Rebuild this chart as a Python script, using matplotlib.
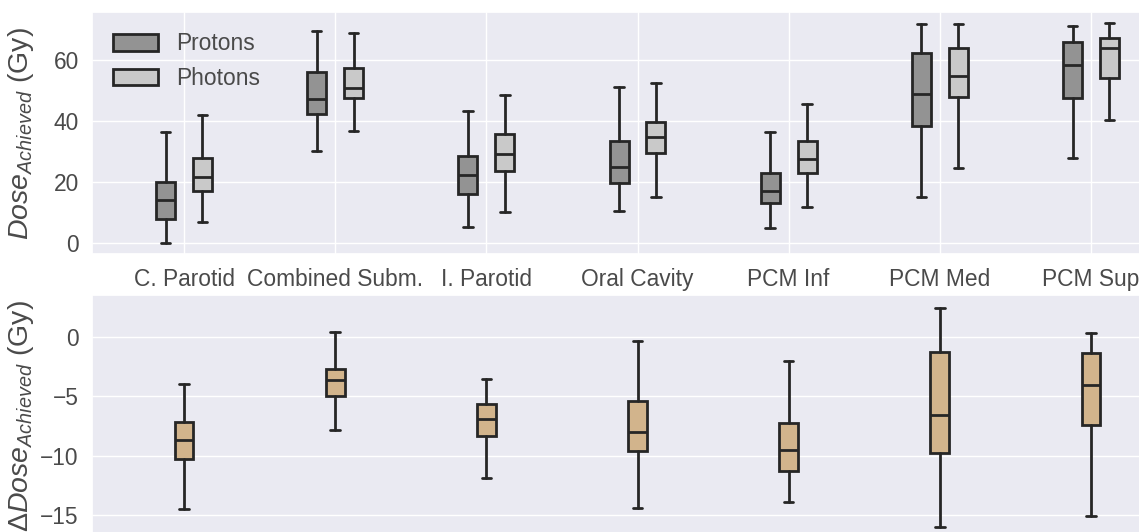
import matplotlib
matplotlib.use("Agg")
import matplotlib.pyplot as plt
import seaborn as sns
from matplotlib.patches import Patch

# data (Gy)
categories = ["C. Parotid", "Combined Subm.", "I. Parotid", "Oral Cavity",
              "PCM Inf", "PCM Med", "PCM Sup"]

protons_low = [0.2, 30.3, 5.3, 10.6, 4.9, 15.2, 27.9]
protons_q1 = [8.1, 42.3, 16.3, 19.6, 13.2, 38.3, 47.6]
protons_med = [14.2, 47.3, 22.3, 25.1, 17.2, 49.0, 58.3]
protons_q3 = [20.1, 56.1, 28.6, 33.4, 23.0, 62.2, 65.9]
protons_high = [36.4, 69.6, 43.2, 51.2, 36.5, 71.9, 71.3]

photons_low = [7.1, 36.9, 10.4, 15.3, 12.0, 24.8, 40.4]
photons_q1 = [17.3, 47.7, 23.6, 29.7, 23.0, 47.8, 54.1]
photons_med = [21.8, 50.8, 29.3, 34.9, 27.7, 54.9, 63.9]
photons_q3 = [28.1, 57.6, 35.7, 39.8, 33.6, 64.0, 67.2]
photons_high = [41.9, 68.8, 48.5, 52.5, 45.6, 71.9, 72.2]

delta_low = [-14.5, -7.85, -11.9, -14.4, -13.9, -16.0, -15.1]
delta_q1 = [-10.3, -4.95, -8.36, -9.63, -11.3, -9.74, -7.43]
delta_med = [-8.72, -3.66, -6.95, -7.99, -9.54, -6.56, -4.05]
delta_q3 = [-7.15, -2.67, -5.66, -5.38, -7.26, -1.24, -1.35]
delta_high = [-3.94, 0.42, -3.57, -0.31, -2.03, 2.42, 0.31]


def make_stats(low, q1, med, q3, high):
    return [dict(whislo=a, q1=b, med=c, q3=d, whishi=e, fliers=[])
            for a, b, c, d, e in zip(low, q1, med, q3, high)]


sns.set_theme(style="darkgrid")
plt.rcParams["font.family"] = ["Liberation Sans", "DejaVu Sans"]
plt.rcParams["mathtext.fontset"] = "custom"
plt.rcParams["mathtext.it"] = "Liberation Sans:italic"
plt.rcParams["mathtext.rm"] = "Liberation Sans"

edge = "#262626"
text_col = "#4a4a4a"
line_kw = dict(color=edge, linewidth=2.0)


def draw(ax, stats, pos, face):
    ax.bxp(stats, positions=pos, widths=0.125, patch_artist=True,
           showfliers=False,
           boxprops=dict(facecolor=face, edgecolor=edge, linewidth=2.0),
           whiskerprops=line_kw, capprops=line_kw, medianprops=line_kw,
           manage_ticks=False)


W, H = 1139, 532
fig = plt.figure(figsize=(W / 100, H / 100), dpi=100)
# the reference is a crop: both panels run past the right and bottom edges
ax1 = fig.add_axes([92 / W, 1 - 254.5 / H, (1183 - 92) / W, (254.5 - 12) / H])
ax2 = fig.add_axes([92 / W, 1 - 537.5 / H, (1183 - 92) / W, (537.5 - 295) / H])

x = list(range(len(categories)))
draw(ax1, make_stats(protons_low, protons_q1, protons_med, protons_q3, protons_high),
     [i - 0.122 for i in x], "#939393")
draw(ax1, make_stats(photons_low, photons_q1, photons_med, photons_q3, photons_high),
     [i + 0.122 for i in x], "#c9c9c9")
draw(ax2, make_stats(delta_low, delta_q1, delta_med, delta_q3, delta_high),
     x, "#d2b48c")

for ax in (ax1, ax2):
    ax.set_xlim(-0.609, 6.609)
    ax.tick_params(labelsize=16.4, colors=text_col)

ax1.set_xticks(x)
ax1.set_xticklabels(categories)
ax1.set_yticks([0, 20, 40, 60])
ax1.set_ylim(-3.67, 75.8)
ax1.set_ylabel(r"$Dose_{Achieved}$ (Gy)", fontsize=20.5, color=text_col)

ax2.set_xticks([])
ax2.set_yticks([-15, -10, -5, 0])
ax2.set_ylim(-16.9, 3.54)
ax2.set_ylabel(r"$\Delta Dose_{Achieved}$ (Gy)", fontsize=20.5, color=text_col)

# both y labels sit at the same x, as in the reference
for ax in (ax1, ax2):
    ax.yaxis.set_label_coords(-0.0513, 0.5)

handles = [Patch(facecolor="#939393", edgecolor=edge, linewidth=2.0, label="Protons"),
           Patch(facecolor="#c9c9c9", edgecolor=edge, linewidth=2.0, label="Photons")]
ax1.legend(handles=handles, loc="upper left", fontsize=16.4, frameon=False,
           labelcolor=text_col, handleheight=0.75, bbox_to_anchor=(0.0, 1.0))

fig.savefig("out.png", dpi=100)
